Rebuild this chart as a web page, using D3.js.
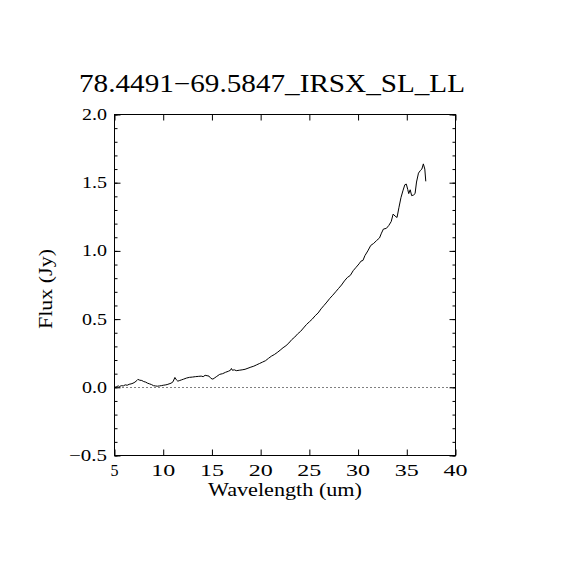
<!DOCTYPE html>
<html><head><meta charset="utf-8">
<script src="https://cdn.jsdelivr.net/npm/d3@7"></script>
<style>body{margin:0;background:#fff}svg{display:block}text{font-family:"Liberation Serif","DejaVu Serif",serif;fill:#000}</style>
</head><body><svg id="c" width="570" height="570"></svg>
<script>
const title = "78.4491\u221269.5847_IRSX_SL_LL";
const xLabel = "Wavelength (um)";
const yLabel = "Flux (Jy)";
const xTicks = [5,10,15,20,25,30,35,40];
const yTicks = [-0.5,0.0,0.5,1.0,1.5,2.0];
const yTickLabels = ["\u22120.5","0.0","0.5","1.0","1.5","2.0"];
const wavelength = [5.05,5.2,5.4,5.5,5.7,5.9,6.1,6.3,6.5,6.7,6.9,7.1,7.3,7.4,7.6,7.8,8.0,8.2,8.4,8.6,8.8,9.0,9.2,9.4,9.6,9.8,10.0,10.2,10.4,10.6,10.8,11.0,11.2,11.35,11.5,11.7,11.9,12.1,12.4,12.7,13.0,13.3,13.6,13.9,14.1,14.3,14.5,14.7,14.9,15.1,15.3,15.5,15.8,16.1,16.4,16.7,16.9,17.0,17.1,17.3,17.5,17.8,18.1,18.4,18.7,19.0,19.3,19.6,19.9,20.2,20.5,20.8,21.1,21.4,21.7,22.0,22.3,22.6,22.9,23.2,23.5,23.8,24.1,24.4,24.7,25.0,25.3,25.6,25.9,26.2,26.5,26.8,27.1,27.4,27.7,28.0,28.3,28.6,28.9,29.2,29.5,29.8,30.1,30.3,30.5,30.7,31.0,31.3,31.6,31.9,32.2,32.4,32.6,32.9,33.15,33.4,33.6,33.8,34.0,34.2,34.4,34.6,34.8,34.95,35.1,35.2,35.35,35.5,35.7,35.85,36.0,36.2,36.4,36.55,36.7,36.85,36.95];
const flux = [0.0,0.005,0.01,0.005,0.012,0.01,0.018,0.015,0.022,0.025,0.03,0.038,0.05,0.058,0.052,0.05,0.042,0.038,0.03,0.025,0.02,0.012,0.01,0.008,0.01,0.012,0.015,0.017,0.02,0.025,0.03,0.04,0.072,0.055,0.045,0.05,0.055,0.06,0.068,0.073,0.075,0.078,0.08,0.082,0.078,0.088,0.085,0.082,0.065,0.06,0.07,0.08,0.095,0.1,0.11,0.118,0.125,0.138,0.125,0.128,0.122,0.125,0.128,0.132,0.14,0.148,0.155,0.165,0.175,0.185,0.195,0.212,0.228,0.24,0.255,0.272,0.29,0.305,0.325,0.35,0.368,0.392,0.41,0.435,0.46,0.48,0.5,0.525,0.545,0.575,0.6,0.625,0.652,0.675,0.7,0.725,0.75,0.78,0.805,0.82,0.855,0.88,0.905,0.925,0.93,0.965,1.0,1.04,1.055,1.076,1.095,1.13,1.16,1.165,1.186,1.215,1.27,1.255,1.245,1.32,1.39,1.44,1.485,1.49,1.45,1.42,1.448,1.405,1.41,1.42,1.505,1.57,1.59,1.6,1.638,1.6,1.51];

const svg = d3.select("#c");
const L=114.5,R=455.5,T=114.5,B=455.5;
const x = d3.scaleLinear().domain([5,40]).range([L,R]);
const y = d3.scaleLinear().domain([-0.5,2.0]).range([B,T]);

svg.append("line").attr("x1",L).attr("x2",R).attr("y1",Math.round(y(0))+0.5).attr("y2",Math.round(y(0))+0.5)
  .attr("stroke","#000").attr("stroke-width",1).attr("stroke-dasharray","1,3");

svg.append("path").datum(wavelength.map((w,i)=>[w,flux[i]]))
  .attr("d",d3.line().x(d=>x(d[0])).y(d=>y(d[1])))
  .attr("fill","none").attr("stroke","#000").attr("stroke-width",1);

const minorY = d3.range(-0.5,2.0001,0.1);
function ax(g){g.selectAll(".domain").remove();g.selectAll("line").attr("stroke","#000");g.selectAll("text").remove();}
svg.append("g").attr("transform",`translate(0,${B})`).call(d3.axisBottom(x).tickValues(xTicks).tickSize(-6)).call(ax);
svg.append("g").attr("transform",`translate(0,${T})`).call(d3.axisTop(x).tickValues(xTicks).tickSize(-6)).call(ax);
svg.append("g").attr("transform",`translate(${L},0)`).call(d3.axisLeft(y).tickValues(minorY).tickSize(-3)).call(ax);
svg.append("g").attr("transform",`translate(${R},0)`).call(d3.axisRight(y).tickValues(minorY).tickSize(-3)).call(ax);
svg.append("g").attr("transform",`translate(${L},0)`).call(d3.axisLeft(y).tickValues(yTicks).tickSize(-6)).call(ax);
svg.append("g").attr("transform",`translate(${R},0)`).call(d3.axisRight(y).tickValues(yTicks).tickSize(-6)).call(ax);
svg.append("rect").attr("x",L).attr("y",T).attr("width",R-L).attr("height",B-T).attr("fill","none").attr("stroke","#000").attr("stroke-width",1);

const xw = s => String(s).length===1 ? 8 : 24;
const yw = s => s.length===4 ? 38 : 25;
svg.selectAll(".xl").data(xTicks).enter().append("text")
  .attr("x",d=>x(d)).attr("y",475.5).attr("text-anchor","middle").attr("font-size",17)
  .attr("textLength",d=>xw(d)).attr("lengthAdjust","spacingAndGlyphs").text(d=>d);
svg.selectAll(".yl").data(yTicks).enter().append("text")
  .attr("x",(d,i)=>107-yw(yTickLabels[i])).attr("y",d=>y(d)+5.5).attr("font-size",17)
  .attr("textLength",(d,i)=>yw(yTickLabels[i])).attr("lengthAdjust","spacingAndGlyphs").text((d,i)=>yTickLabels[i]);

svg.append("text").attr("x",272).attr("y",92).attr("text-anchor","middle").attr("font-size",25)
  .attr("textLength",386).attr("lengthAdjust","spacingAndGlyphs").text(title);
svg.append("text").attr("x",285).attr("y",496).attr("text-anchor","middle").attr("font-size",18)
  .attr("textLength",154).attr("lengthAdjust","spacingAndGlyphs").text(xLabel);
svg.append("text").attr("transform","translate(52,289) rotate(-90)").attr("text-anchor","middle").attr("font-size",18)
  .attr("textLength",80).attr("lengthAdjust","spacingAndGlyphs").text(yLabel);
</script></body></html>
